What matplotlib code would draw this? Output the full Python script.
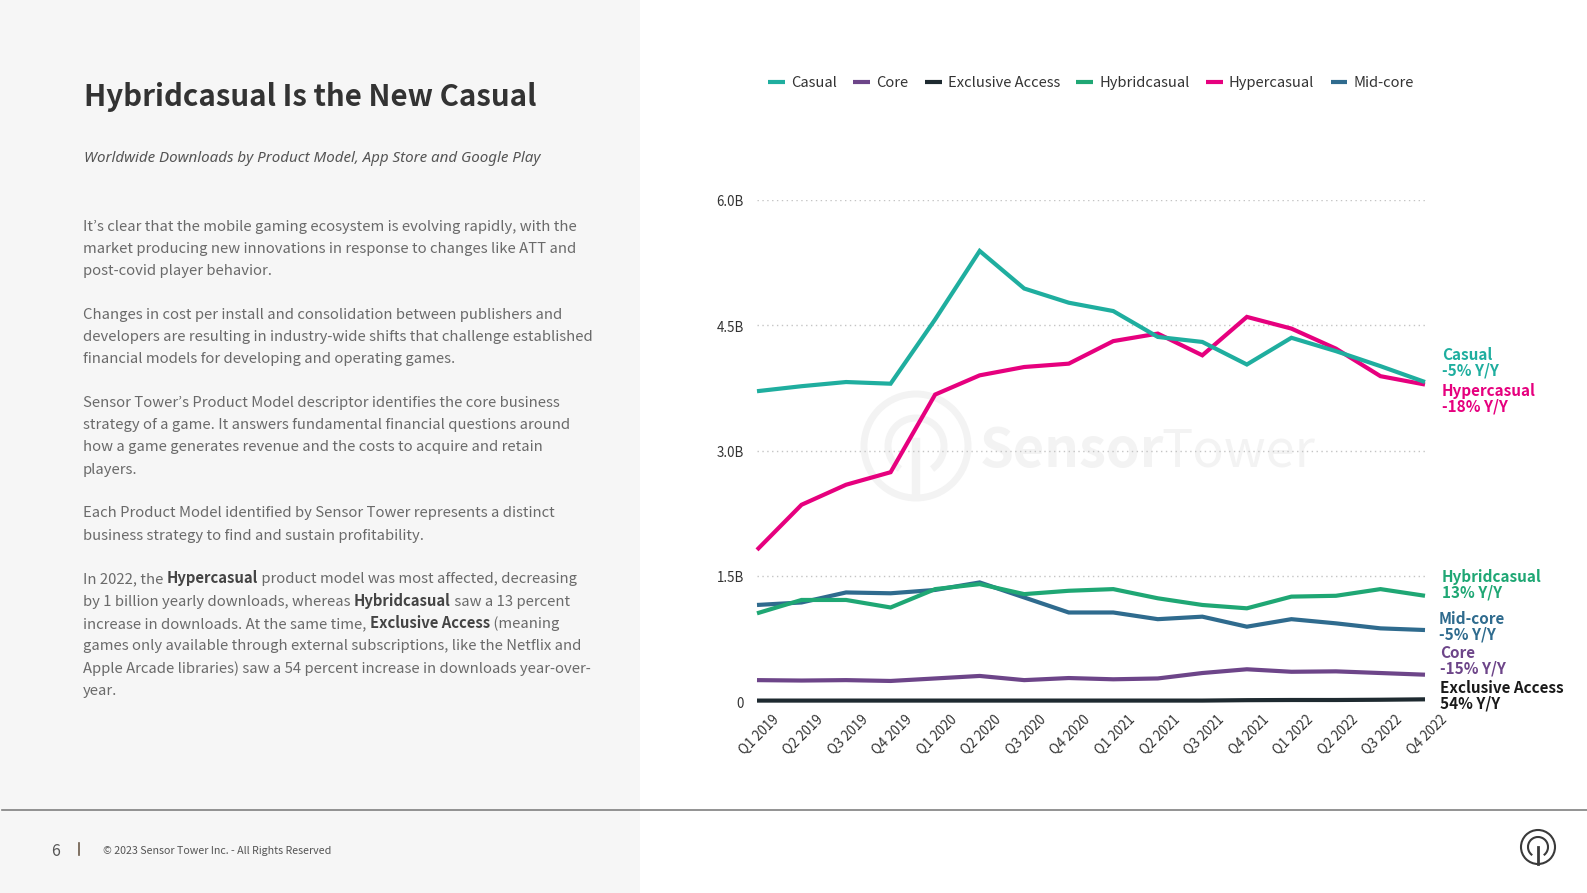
import matplotlib
matplotlib.use("Agg")
import matplotlib.pyplot as plt
from matplotlib.patches import Circle, Arc, Rectangle
from matplotlib.transforms import ScaledTranslation

plt.rcParams['font.family'] = ['Noto Sans CJK KR', 'DejaVu Sans']

W, H = 1587, 893

quarters = ["Q1 2019", "Q2 2019", "Q3 2019", "Q4 2019", "Q1 2020", "Q2 2020", "Q3 2020", "Q4 2020",
            "Q1 2021", "Q2 2021", "Q3 2021", "Q4 2021", "Q1 2022", "Q2 2022", "Q3 2022", "Q4 2022"]
casual = [3.71, 3.77, 3.82, 3.80, 4.57, 5.39, 4.94, 4.77, 4.67, 4.36, 4.30, 4.03, 4.35, 4.19, 4.01, 3.82]
core = [0.25, 0.245, 0.25, 0.24, 0.27, 0.30, 0.25, 0.275, 0.26, 0.27, 0.335, 0.38, 0.35, 0.355, 0.335, 0.315]
exclusive = [0.005, 0.005, 0.005, 0.005, 0.005, 0.005, 0.005, 0.005, 0.005, 0.005, 0.005, 0.01, 0.012, 0.012, 0.015, 0.02]
hybrid = [1.05, 1.21, 1.21, 1.12, 1.34, 1.40, 1.28, 1.32, 1.34, 1.23, 1.15, 1.11, 1.25, 1.26, 1.34, 1.26]
hyper = [1.81, 2.35, 2.59, 2.74, 3.67, 3.90, 4.00, 4.04, 4.31, 4.40, 4.14, 4.60, 4.46, 4.22, 3.89, 3.79]
midcore = [1.15, 1.18, 1.30, 1.29, 1.33, 1.42, 1.24, 1.06, 1.06, 0.98, 1.01, 0.89, 0.98, 0.93, 0.87, 0.85]

yticks = [0, 1.5, 3.0, 4.5, 6.0]
ytick_labels = ["0", "1.5B", "3.0B", "4.5B", "6.0B"]

series_names = ["Casual", "Core", "Exclusive Access", "Hybridcasual", "Hypercasual", "Mid-core"]
series_colors = ["#1fae9f", "#6d4589", "#1e2a30", "#1fa774", "#e6007e", "#2f6b8e"]
series_values = [casual, core, exclusive, hybrid, hyper, midcore]

end_labels = [("Casual", "-5% Y/Y", "#1fae9f", 1442, 355),
              ("Hypercasual", "-18% Y/Y", "#e6007e", 1442, 391),
              ("Hybridcasual", "13% Y/Y", "#1fa774", 1442, 577),
              ("Mid-core", "-5% Y/Y", "#2f6b8e", 1439, 619.5),
              ("Core", "-15% Y/Y", "#6d4589", 1440, 653.5),
              ("Exclusive Access", "54% Y/Y", "#1a1a1a", 1440, 688)]

title = "Hybridcasual Is the New Casual"
subtitle = "Worldwide Downloads by Product Model, App Store and Google Play"
# entries starting with * are bold runs, each list is one line, None is a paragraph gap
body = [
    ["It\u2019s clear that the mobile gaming ecosystem is evolving rapidly, with the"],
    ["market producing new innovations in response to changes like ATT and"],
    ["post-covid player behavior."],
    None,
    ["Changes in cost per install and consolidation between publishers and"],
    ["developers are resulting in industry-wide shifts that challenge established"],
    ["financial models for developing and operating games."],
    None,
    ["Sensor Tower\u2019s Product Model descriptor identifies the core business"],
    ["strategy of a game. It answers fundamental financial questions around"],
    ["how a game generates revenue and the costs to acquire and retain"],
    ["players."],
    None,
    ["Each Product Model identified by Sensor Tower represents a distinct"],
    ["business strategy to find and sustain profitability."],
    None,
    ["In 2022, the ", "*Hypercasual", " product model was most affected, decreasing"],
    ["by 1 billion yearly downloads, whereas ", "*Hybridcasual", " saw a 13 percent"],
    ["increase in downloads. At the same time, ", "*Exclusive Access", " (meaning"],
    ["games only available through external subscriptions, like the Netflix and"],
    ["Apple Arcade libraries) saw a 54 percent increase in downloads year-over-"],
    ["year."],
]
body_baselines = [231, 253.3, 275.5, None, 319, 341.3, 363.5, None, 407, 429.3, 451.5, 473.8, None,
                  517.5, 539.8, None, 583.5, 605.8, 628, 650.3, 672.5, 694.8]

fig = plt.figure(figsize=(W / 100, H / 100), dpi=100, facecolor="white")

# page furniture in pixel coordinates
bg = fig.add_axes([0, 0, 1, 1], zorder=0)
bg.set_xlim(0, W)
bg.set_ylim(H, 0)
bg.axis("off")
bg.add_patch(Rectangle((0, 0), 640, H, color="#f6f6f6", lw=0))
bg.plot([2, W], [809.5, 809.5], color="#808080", lw=1.2)

# watermark
wm = "#f3f3f3"
bg.add_patch(Circle((916, 446), 52, fill=False, ec=wm, lw=5))
bg.add_patch(Arc((916, 446), 56, 56, theta1=125, theta2=55, ec=wm, lw=5))
bg.plot([916, 916], [442, 492], color=wm, lw=6)
bg.text(980, 452, "Sensor", fontsize=39, fontweight="bold", color=wm, va="center", ha="left")
bg.text(1161, 452, "Tower", fontsize=37.5, fontweight="light", color=wm, va="center", ha="left")

# title block
bg.text(84, 97, title, fontsize=21.2, fontweight="bold", color="#333333", va="center", ha="left")
bg.text(84, 158, subtitle, fontsize=10.9, family="Noto Sans", style="italic", color="#555555",
        va="center", ha="left")

renderer = fig.canvas.get_renderer()
for line, y in zip(body, body_baselines):
    if line is None:
        continue
    x = 83
    for run in line:
        bold = run.startswith("*")
        t = bg.text(x, y, run.lstrip("*"), fontsize=10.7, color="#444444" if bold else "#6a6a6a",
                    fontweight="bold" if bold else "normal", va="baseline", ha="left")
        x += t.get_window_extent(renderer).width

# footer
bg.text(51, 851, "6", fontsize=11.5, color="#555555", va="center", ha="left")
bg.plot([79, 79], [843, 855], color="#6b5a4a", lw=1.2)
bg.text(103, 851.5, "\u00a9 2023 Sensor Tower Inc. - All Rights Reserved", fontsize=7.7, color="#555555",
        va="center", ha="left")

# logo
logo = "#3a3a3a"
bg.add_patch(Circle((1538, 847), 17, fill=False, ec=logo, lw=1.5))
bg.add_patch(Arc((1538, 847), 20, 20, theta1=125, theta2=55, ec=logo, lw=1.5))
bg.plot([1538, 1538], [847, 864], color=logo, lw=2)

# chart
ax = fig.add_axes([757 / W, 1 - 701 / H, 668 / W, 501 / H], zorder=1)
ax.patch.set_alpha(0)
for i, (name, vals, col) in enumerate(zip(series_names, series_values, series_colors)):
    ax.plot(range(len(quarters)), vals, color=col, lw=3, label=name, clip_on=False,
            solid_joinstyle="miter", solid_capstyle="butt", zorder=10 - i)
ax.set_xlim(0, len(quarters) - 1)
ax.set_ylim(0, 6)
ax.set_yticks(yticks)
ax.set_yticklabels(ytick_labels, fontsize=9.6, color="#333333", va="center")
ax.set_xticks(range(len(quarters)))
ax.set_xticklabels(quarters, fontsize=9.6, color="#333333", rotation=45, ha="center", va="top")
ax.tick_params(length=0)
ax.tick_params(axis="y", pad=10)
ax.tick_params(axis="x", pad=9)
ax.grid(axis="y", color="#c4c4c4", lw=1, linestyle=(0, (1, 2.5)))
ax.set_axisbelow(True)
for s in ax.spines.values():
    s.set_visible(False)

# nudge tick labels a touch to sit like the original
for lab in ax.get_yticklabels():
    lab.set_transform(lab.get_transform() + ScaledTranslation(0.01, -0.025, fig.dpi_scale_trans))
for lab in ax.get_xticklabels():
    lab.set_transform(lab.get_transform() + ScaledTranslation(0.02, 0.01, fig.dpi_scale_trans))

leg = fig.legend(loc="center", bbox_to_anchor=(1091 / W, 1 - 83 / H), ncol=6, frameon=False,
                 fontsize=10.6, handlelength=1.15, handletextpad=0.42, columnspacing=1.1,
                 borderpad=0, labelcolor="#333333")

for name, change, col, x, y in end_labels:
    bg.text(x, y, name, fontsize=11, fontweight="bold", color=col, va="center", ha="left")
    bg.text(x, y + 15.5, change, fontsize=11, fontweight="bold", color=col, va="center", ha="left")

fig.savefig("out.png", dpi=100)
